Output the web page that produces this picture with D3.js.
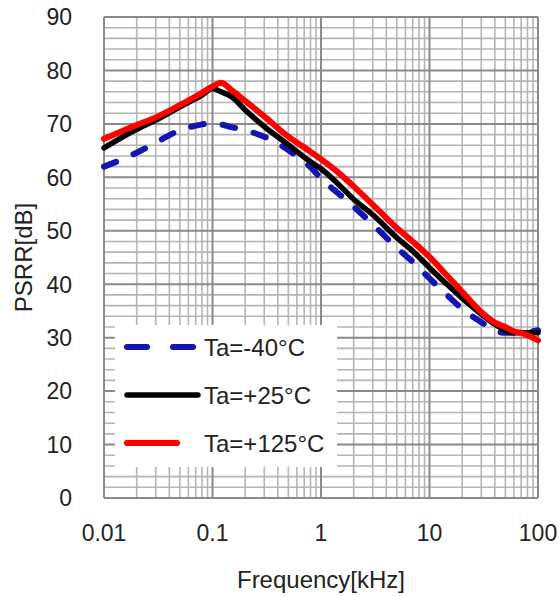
<!DOCTYPE html>
<html>
<head>
<meta charset="utf-8">
<script src="https://cdn.jsdelivr.net/npm/d3@7"></script>
<style>
  body { margin: 0; background: #fff; }
  text { font-family: Arial, "Liberation Sans", sans-serif; fill: #222; }
</style>
</head>
<body>
<div id="chart"></div>
<script>
// ------------------------------
//  Data
// ------------------------------
const freqs = [0.01, 0.02, 0.03, 0.05, 0.08, 0.1, 0.12, 0.15, 0.2, 0.3, 0.5, 0.8, 1, 1.5, 2, 3, 5, 7, 10, 15, 20, 30, 40, 50, 60, 70, 100];
const psrrM40 = [62.0, 64.6, 66.5, 68.8, 69.9, 70.2, 69.9, 69.4, 68.8, 67.6, 65.1, 61.9, 59.8, 56.7, 54.5, 51.2, 46.8, 44.2, 41.1, 37.7, 35.4, 32.9, 31.3, 30.9, 30.9, 30.9, 31.4];
const psrr25 = [65.5, 69.0, 70.7, 73.2, 75.4, 76.6, 76.0, 75.1, 72.6, 69.5, 66.1, 62.9, 61.6, 58.4, 55.9, 53.0, 48.7, 46.2, 43.1, 39.7, 37.4, 34.4, 32.5, 31.4, 30.9, 30.9, 30.9];
const psrr125 = [67.2, 69.8, 71.2, 73.5, 75.8, 77.0, 77.7, 76.3, 74.3, 71.4, 67.6, 64.8, 63.4, 60.6, 58.3, 54.9, 50.5, 48.0, 45.1, 41.3, 38.6, 34.8, 32.8, 32.0, 31.2, 30.9, 29.5];

const seriesNames = ["Ta=-40°C", "Ta=+25°C", "Ta=+125°C"];
const seriesValues = [psrrM40, psrr25, psrr125];
const seriesColors = ["#1414b0", "#000000", "#ff0000"];

const xTicks = [0.01, 0.1, 1, 10, 100];
const xTickLabels = ["0.01", "0.1", "1", "10", "100"];
const yTicks = [0, 10, 20, 30, 40, 50, 60, 70, 80, 90];

// ------------------------------
//  Canvas
// ------------------------------
const width = 559, height = 596;
const margin = {top: 17, right: 21, bottom: 98, left: 104};
const innerWidth = width - margin.left - margin.right;
const innerHeight = height - margin.top - margin.bottom;

const svg = d3.select("#chart").append("svg")
  .attr("width", width)
  .attr("height", height);

const inner = svg.append("g")
  .attr("transform", `translate(${margin.left}, ${margin.top})`);

// ------------------------------
//  Scales
// ------------------------------
const x = d3.scaleLog().domain([0.01, 100]).range([0, innerWidth]);
const y = d3.scaleLinear().domain([0, 90]).range([innerHeight, 0]);

// ------------------------------
//  Grid
// ------------------------------
const minorX = [];
[0.01, 0.1, 1, 10].forEach(dec => {
  for (let k = 2; k <= 9; k++) minorX.push(dec * k);
});
const minorY = d3.range(0, 91, 2).filter(v => v % 10 !== 0);

inner.append("g")
  .selectAll("line")
  .data(minorX)
  .join("line")
    .attr("x1", d => x(d)).attr("x2", d => x(d))
    .attr("y1", 0).attr("y2", innerHeight)
    .attr("stroke", "#b4b4b4").attr("stroke-width", 1.6);

inner.append("g")
  .selectAll("line")
  .data(minorY)
  .join("line")
    .attr("x1", 0).attr("x2", innerWidth)
    .attr("y1", d => y(d)).attr("y2", d => y(d))
    .attr("stroke", "#b4b4b4").attr("stroke-width", 1.6);

inner.append("g")
  .selectAll("line")
  .data(xTicks)
  .join("line")
    .attr("x1", d => x(d)).attr("x2", d => x(d))
    .attr("y1", 0).attr("y2", innerHeight)
    .attr("stroke", "#8a8a8a").attr("stroke-width", 2);

inner.append("g")
  .selectAll("line")
  .data(yTicks)
  .join("line")
    .attr("x1", 0).attr("x2", innerWidth)
    .attr("y1", d => y(d)).attr("y2", d => y(d))
    .attr("stroke", "#8a8a8a").attr("stroke-width", 2);

// ------------------------------
//  Tick labels
// ------------------------------
inner.append("g")
  .selectAll("text")
  .data(xTicks)
  .join("text")
    .attr("x", d => x(d))
    .attr("y", innerHeight + 43)
    .attr("text-anchor", "middle")
    .style("font-size", "23px")
    .text((d, i) => xTickLabels[i]);

inner.append("g")
  .selectAll("text")
  .data(yTicks)
  .join("text")
    .attr("x", -32)
    .attr("y", d => y(d))
    .attr("dy", "0.36em")
    .attr("text-anchor", "end")
    .style("font-size", "23px")
    .text(d => d);

svg.append("text")
  .attr("x", margin.left + innerWidth / 2)
  .attr("y", 588)
  .attr("text-anchor", "middle")
  .style("font-size", "24px")
  .text("Frequency[kHz]");

svg.append("text")
  .attr("transform", `translate(32, ${margin.top + innerHeight / 2}) rotate(-90)`)
  .attr("text-anchor", "middle")
  .style("font-size", "24px")
  .text("PSRR[dB]");

// ------------------------------
//  Curves
// ------------------------------
const line = d3.line()
  .x((d, i) => x(freqs[i]))
  .y(d => y(d))
  .curve(d3.curveMonotoneX);

const dashes = ["13,19", null, null];
const widths = [6, 5.5, 6];

[0, 1, 2].forEach(i => {
  inner.append("path")
    .datum(seriesValues[i])
    .attr("d", line)
    .attr("fill", "none")
    .attr("stroke", seriesColors[i])
    .attr("stroke-width", widths[i])
    .attr("stroke-linecap", "round")
    .attr("stroke-linejoin", "round")
    .attr("stroke-dasharray", dashes[i]);
});

// ------------------------------
//  Legend
// ------------------------------
const legend = svg.append("g");
legend.append("rect")
  .attr("x", 115).attr("y", 325)
  .attr("width", 222).attr("height", 142)
  .attr("fill", "#fff");

const legendLen = [70, 71, 50];
seriesNames.forEach((name, i) => {
  const ly = 347 + i * 48;
  legend.append("line")
    .attr("x1", 127).attr("x2", 127 + legendLen[i])
    .attr("y1", ly).attr("y2", ly)
    .attr("stroke", seriesColors[i])
    .attr("stroke-width", widths[i])
    .attr("stroke-linecap", "round")
    .attr("stroke-dasharray", i === 0 ? "20,26" : null);
  legend.append("text")
    .attr("x", 204)
    .attr("y", ly)
    .attr("dy", "0.36em")
    .style("font-size", "24px")
    .text(name);
});
</script>
</body>
</html>
